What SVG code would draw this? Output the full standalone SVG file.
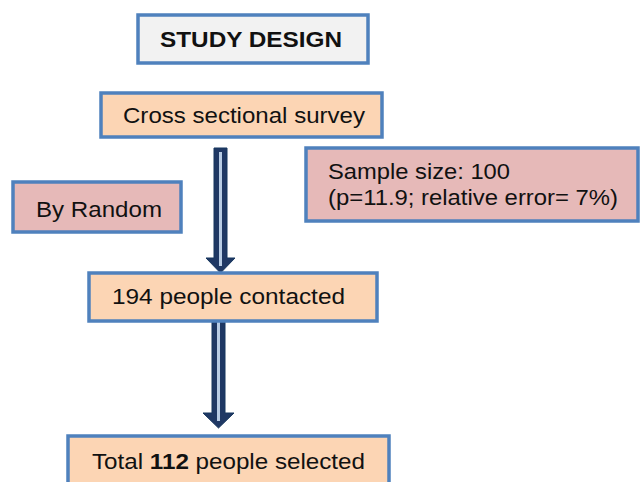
<svg xmlns="http://www.w3.org/2000/svg" width="641" height="482" viewBox="0 0 641 482">
<style>
.box{stroke:#4f81bd;stroke-width:3.5}
.peach{fill:#fcd5b4}
.pink{fill:#e6b9b8}
.grey{fill:#f2f2f2}
text{font-family:"Liberation Sans",Arial,sans-serif;fill:#111}
.t{font-size:22px}
.arrow{fill:#1f3864;stroke:#17375e;stroke-width:1}
.inner{stroke:#b8cce4;stroke-width:3}
</style>
<rect width="641" height="482" fill="#ffffff"/>
<g id="connectors">
  <g id="arrow1">
    <polygon class="arrow" points="214,148 227,148 227,258 235,258 220.5,273 206,258 214,258"/>
    <line class="inner" x1="220.5" y1="152" x2="220.5" y2="266"/>
  </g>
  <g id="arrow2">
    <polygon class="arrow" points="212,313 225,313 225,413 234,413 218.5,428 203,413 212,413"/>
    <line class="inner" x1="218.5" y1="316" x2="218.5" y2="421"/>
  </g>
</g>
<g id="study-design">
  <rect class="box grey" x="138" y="15" width="230" height="48"/>
  <text x="160" y="47" font-size="22" font-weight="bold" textLength="182" lengthAdjust="spacingAndGlyphs">STUDY DESIGN</text>
</g>
<g id="cross-sectional">
  <rect class="box peach" x="101" y="93" width="281" height="44"/>
  <text class="t" x="123" y="123" textLength="242" lengthAdjust="spacingAndGlyphs">Cross sectional survey</text>
</g>
<g id="sample-size">
  <rect class="box pink" x="306" y="148" width="332" height="73"/>
  <text class="t" x="328" y="179" textLength="182" lengthAdjust="spacingAndGlyphs">Sample size: 100</text>
  <text class="t" x="328" y="205" textLength="290" lengthAdjust="spacingAndGlyphs">(p=11.9; relative error= 7%)</text>
</g>
<g id="by-random">
  <rect class="box pink" x="13" y="182" width="168" height="50"/>
  <text class="t" x="36" y="217" textLength="126" lengthAdjust="spacingAndGlyphs">By Random</text>
</g>
<g id="contacted">
  <rect class="box peach" x="89" y="273" width="288" height="48"/>
  <text class="t" x="112" y="304" textLength="233" lengthAdjust="spacingAndGlyphs">194 people contacted</text>
</g>
<g id="selected">
  <rect class="box peach" x="68" y="436" width="321" height="60"/>
  <text class="t" x="92" y="469" textLength="273" lengthAdjust="spacingAndGlyphs">Total <tspan font-weight="bold">112</tspan> people selected</text>
</g>
</svg>
